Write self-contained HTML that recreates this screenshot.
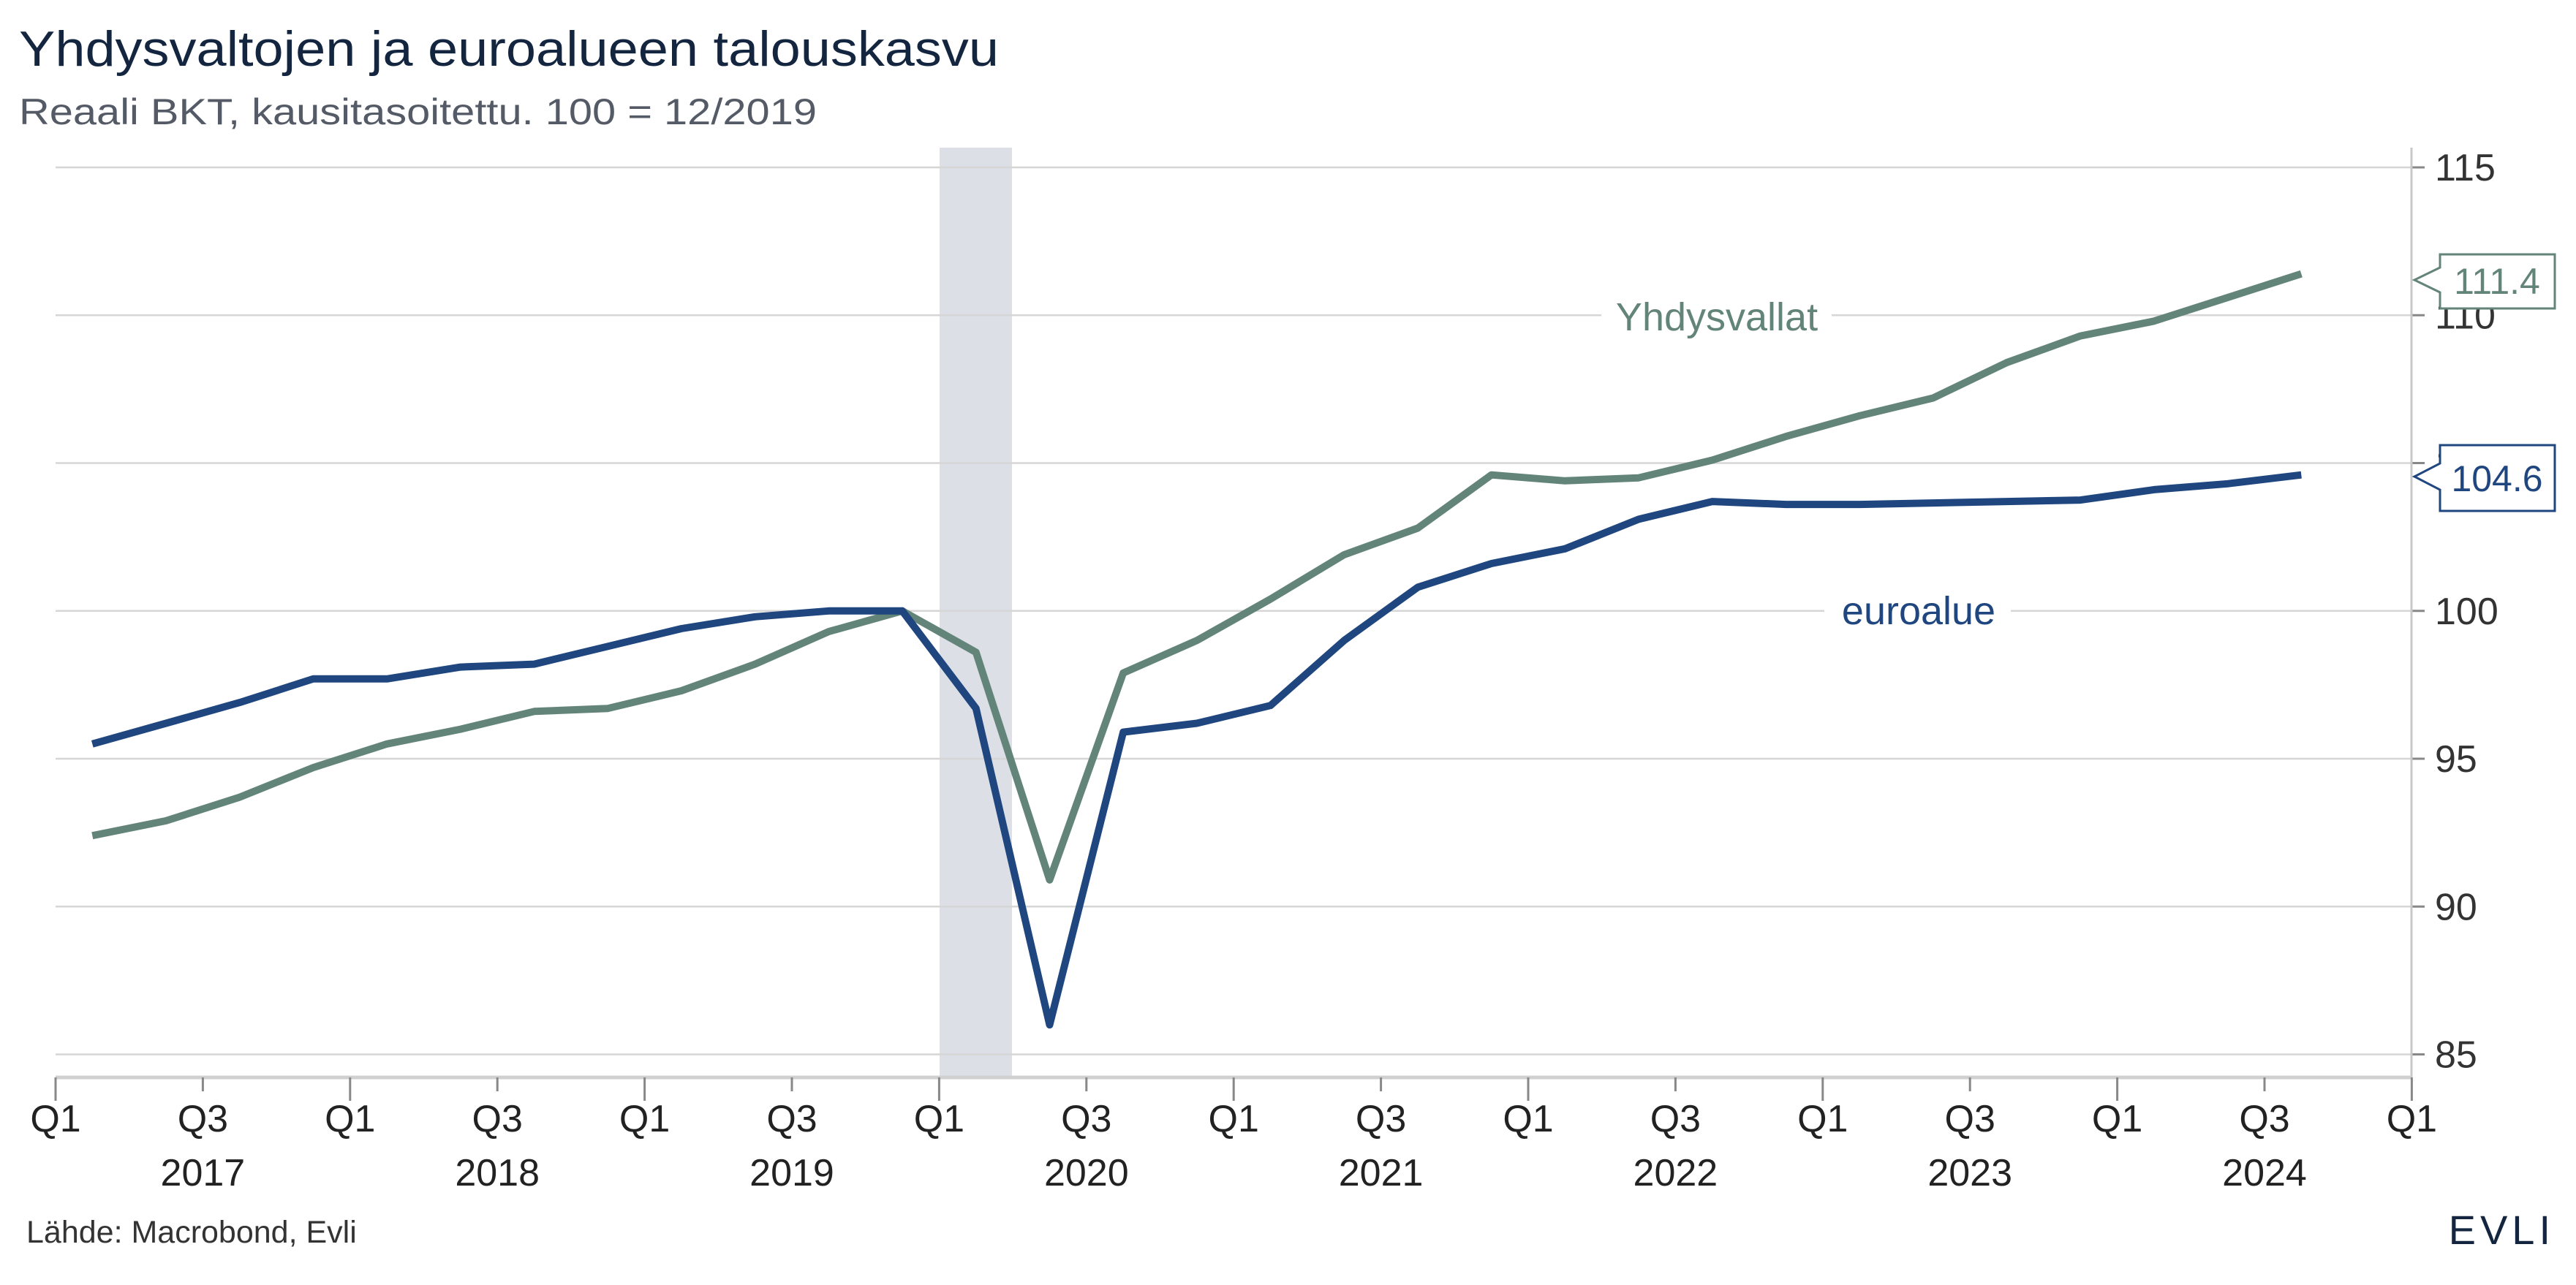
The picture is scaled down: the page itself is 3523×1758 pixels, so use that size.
<!DOCTYPE html>
<html><head><meta charset="utf-8"><style>
html,body{margin:0;padding:0;background:#fff}
svg{display:block}
text{font-family:"Liberation Sans",sans-serif}
</style></head><body>
<svg id="s" width="3523" height="1758" viewBox="0 0 3523 1758" xmlns="http://www.w3.org/2000/svg">
<rect width="3523" height="1758" fill="#fff"/>
<text x="26" y="90" font-size="68" fill="#14263f" textLength="1340" lengthAdjust="spacingAndGlyphs">Yhdysvaltojen ja euroalueen talouskasvu</text>
<text x="26" y="170" font-size="50" fill="#555b66" textLength="1091" lengthAdjust="spacingAndGlyphs">Reaali BKT, kausitasoitettu. 100 = 12/2019</text>
<rect x="1285" y="202" width="99" height="1272" fill="#dcdfe6"/>
<g id="grid"></g>
<line x1="3298" y1="202" x2="3298" y2="1474" stroke="#c8c8c8" stroke-width="3"/>
<line x1="76" y1="1474" x2="3298" y2="1474" stroke="#d0d0d0" stroke-width="5"/>
<g id="xt"></g>
<path id="us" fill="none" stroke="#638478" stroke-width="10" stroke-linejoin="round"/>
<path id="eu" fill="none" stroke="#1f467f" stroke-width="10" stroke-linejoin="round"/>
<rect x="2190" y="400" width="315" height="68" fill="#fff"/>
<text x="2348" y="452" font-size="54" fill="#638478" text-anchor="middle">Yhdysvallat</text>
<rect x="2495" y="802" width="255" height="68" fill="#fff"/>
<text x="2624" y="854" font-size="54" fill="#1f467f" text-anchor="middle">euroalue</text>
<path d="M3337 348 H3494 V422 H3337 V400 L3302 383 L3337 366 Z" fill="#fff" stroke="#638478" stroke-width="3"/>
<text x="3415" y="402" font-size="50" fill="#638478" text-anchor="middle">111.4</text>
<path d="M3337 609 H3494 V699 H3337 V670 L3302 652 L3337 634 Z" fill="#fff" stroke="#1f467f" stroke-width="3"/>
<text x="3415" y="672" font-size="50" fill="#1f467f" text-anchor="middle">104.6</text>
<text x="36" y="1700" font-size="43" fill="#333">Lähde: Macrobond, Evli</text>
<text x="3494" y="1702" font-size="56" fill="#14263f" font-family="Liberation Serif" text-anchor="end" letter-spacing="6">EVLI</text>
</svg>
<script>
var NS="http://www.w3.org/2000/svg";
function Y(v){return 229+(115-v)*40.45;}
function X(i){return 76+(i+0.5)*100.7;}
function el(p,t,a,txt){var e=document.createElementNS(NS,t);for(var k in a)e.setAttribute(k,a[k]);if(txt)e.textContent=txt;document.getElementById(p).appendChild(e);}
for(var v=85;v<=115;v+=5){var y=Y(v);
el("grid","line",{x1:76,y1:y,x2:3298,y2:y,stroke:"#d6d6d6","stroke-width":2.5});
el("grid","line",{x1:3298,y1:y,x2:3316,y2:y,stroke:"#888","stroke-width":3});
el("grid","text",{x:3330,y:y+18,"font-size":52,fill:"#333"},String(v));}
for(var q=0;q<=32;q+=2){var x=76+q*100.7;var maj=q%4==0;
el("xt","line",{x1:x,y1:1474,x2:x,y2:maj?1506:1493,stroke:"#888","stroke-width":3});
el("xt","text",{x:x,y:1548,"font-size":52,fill:"#222","text-anchor":"middle"},maj?"Q1":"Q3");
if(q%4==2)el("xt","text",{x:x,y:1622,"font-size":52,fill:"#222","text-anchor":"middle"},String(2017+(q-2)/4));}
var eu=[95.5,96.2,96.9,97.7,97.7,98.1,98.2,98.8,99.4,99.8,100,100,96.7,86,95.9,96.2,96.8,99,100.8,101.6,102.1,103.1,103.7,103.6,103.6,103.65,103.7,103.75,104.1,104.3,104.6];
var us=[92.4,92.9,93.7,94.7,95.5,96.0,96.6,96.7,97.3,98.2,99.3,100,98.6,90.9,97.9,99,100.4,101.9,102.8,104.6,104.4,104.5,105.1,105.9,106.6,107.2,108.4,109.3,109.8,110.6,111.4];
function P(a){return a.map(function(v,i){return (i?"L":"M")+X(i).toFixed(1)+" "+Y(v).toFixed(1);}).join(" ");}
document.getElementById("us").setAttribute("d",P(us));
document.getElementById("eu").setAttribute("d",P(eu));
</script>
</body></html>
